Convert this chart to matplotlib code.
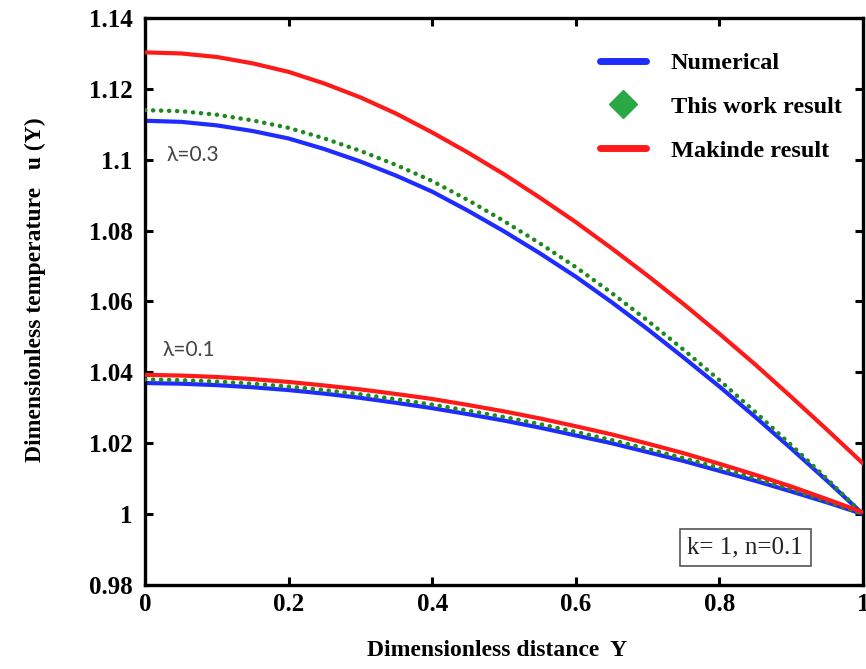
import matplotlib
matplotlib.use("Agg")
import matplotlib.pyplot as plt
from matplotlib.lines import Line2D

# ---- data ----
y_pos = [0.00, 0.05, 0.10, 0.15, 0.20, 0.25, 0.30, 0.35, 0.40, 0.45, 0.50,
         0.55, 0.60, 0.65, 0.70, 0.75, 0.80, 0.85, 0.90, 0.95, 1.00]

num_l03 = [1.1110, 1.1107, 1.1097, 1.1081, 1.1060, 1.1030, 1.0995, 1.0955, 1.0910, 1.0856, 1.0798,
           1.0736, 1.0670, 1.0598, 1.0522, 1.0442, 1.0360, 1.0274, 1.0185, 1.0094, 1.0000]
this_l03 = [1.1140, 1.1137, 1.1127, 1.1111, 1.1090, 1.1060, 1.1025, 1.0985, 1.0940, 1.0886, 1.0827,
            1.0764, 1.0697, 1.0624, 1.0546, 1.0464, 1.0378, 1.0288, 1.0195, 1.0099, 1.0000]
mak_l03 = [1.1303, 1.1300, 1.1290, 1.1272, 1.1248, 1.1215, 1.1176, 1.1130, 1.1077, 1.1020, 1.0959,
           1.0893, 1.0824, 1.0750, 1.0673, 1.0593, 1.0509, 1.0422, 1.0331, 1.0238, 1.0143]

num_l01 = [1.0370, 1.0368, 1.0364, 1.0358, 1.0350, 1.0340, 1.0328, 1.0314, 1.0299, 1.0282, 1.0264,
           1.0244, 1.0222, 1.0200, 1.0175, 1.0150, 1.0122, 1.0094, 1.0064, 1.0033, 1.0000]
this_l01 = [1.0380, 1.0378, 1.0374, 1.0368, 1.0360, 1.0350, 1.0338, 1.0324, 1.0309, 1.0292, 1.0274,
            1.0254, 1.0232, 1.0209, 1.0184, 1.0158, 1.0130, 1.0101, 1.0070, 1.0036, 1.0000]
mak_l01 = [1.0393, 1.0391, 1.0387, 1.0381, 1.0373, 1.0363, 1.0352, 1.0339, 1.0325, 1.0308, 1.0290,
           1.0270, 1.0248, 1.0225, 1.0199, 1.0172, 1.0142, 1.0111, 1.0078, 1.0042, 1.0005]

series_labels = ["Numerical", "This work result", "Makinde result"]
x_ticks = [0, 0.2, 0.4, 0.6, 0.8, 1.0]
x_tick_labels = ["0", "0.2", "0.4", "0.6", "0.8", "1"]
y_ticks = [0.98, 1.00, 1.02, 1.04, 1.06, 1.08, 1.10, 1.12, 1.14]
y_tick_labels = ["0.98", "1", "1.02", "1.04", "1.06", "1.08", "1.1", "1.12", "1.14"]

# ---- style ----
BLUE = "#1f2cff"
GREEN = "#1e8a1e"
GREEN_LEG = "#2aa845"
RED = "#ff1a1a"
SERIF = ["Liberation Serif", "DejaVu Serif"]

fig = plt.figure(figsize=(8.66, 6.69), dpi=100)
ax = fig.add_axes([145 / 866, 1 - 585 / 669, 718 / 866, 567 / 669])

dots = dict(color=GREEN, lw=3.2, linestyle=(0, (0.05, 1.75)), dash_capstyle="round")
for num, this, mak in [(num_l03, this_l03, mak_l03), (num_l01, this_l01, mak_l01)]:
    ax.plot(y_pos, num, color=BLUE, lw=3.0, solid_capstyle="round", zorder=2)
    ax.plot(y_pos, this, zorder=3, **dots)
    ax.plot(y_pos, mak, color=RED, lw=3.0, solid_capstyle="round", zorder=4)

ax.set_xlim(0, 1)
ax.set_ylim(0.98, 1.14)
ax.set_xticks(x_ticks)
ax.set_xticklabels(x_tick_labels)
ax.set_yticks(y_ticks)
ax.set_yticklabels(y_tick_labels)
for lab in ax.get_xticklabels() + ax.get_yticklabels():
    lab.set_fontfamily(SERIF)
    lab.set_fontweight("bold")
    lab.set_fontsize(18)
ax.tick_params(direction="in", length=6, width=2.2, top=True, right=True)
ax.tick_params(axis="y", pad=9)
ax.tick_params(axis="x", pad=6)
for sp in ax.spines.values():
    sp.set_linewidth(2.4)

ax.set_xlabel("Dimensionless distance  Y", fontfamily=SERIF, fontweight="bold",
              fontsize=17, va="center")
ax.xaxis.set_label_coords(0.49, -0.115)
ax.set_ylabel("Dimensionless temperature   u (Y)", fontfamily=SERIF, fontweight="bold",
              fontsize=17, va="center")
ax.yaxis.set_label_coords(-0.153, 0.52)

# annotations
ax.text(0.03, 1.1013, "\u03bb=0.3", fontfamily=["Lato", "DejaVu Sans"], fontsize=15,
        color="#454545", va="center", ha="left")
ax.text(0.025, 1.0463, "\u03bb=0.1", fontfamily=["Lato", "DejaVu Sans"], fontsize=15,
        color="#454545", va="center", ha="left")
ax.text(0.836, 0.067, "k= 1, n=0.1", transform=ax.transAxes, fontfamily=SERIF,
        fontsize=18, color="#222222", ha="center", va="center",
        bbox=dict(boxstyle="square,pad=0.3", fc="white", ec="#555555", lw=1.2))

handles = [
    Line2D([], [], color=BLUE, lw=5, solid_capstyle="round"),
    Line2D([], [], ls="none", marker="D", ms=14, color=GREEN_LEG),
    Line2D([], [], color=RED, lw=5, solid_capstyle="round"),
]
leg = ax.legend(handles, series_labels, loc="upper left", bbox_to_anchor=(0.634, 0.94),
                frameon=False, handlelength=1.9, handletextpad=1.0, labelspacing=0.9,
                borderpad=0, borderaxespad=0,
                prop=dict(family=SERIF, weight="bold", size=17.5))

fig.savefig("out.png", dpi=100)
